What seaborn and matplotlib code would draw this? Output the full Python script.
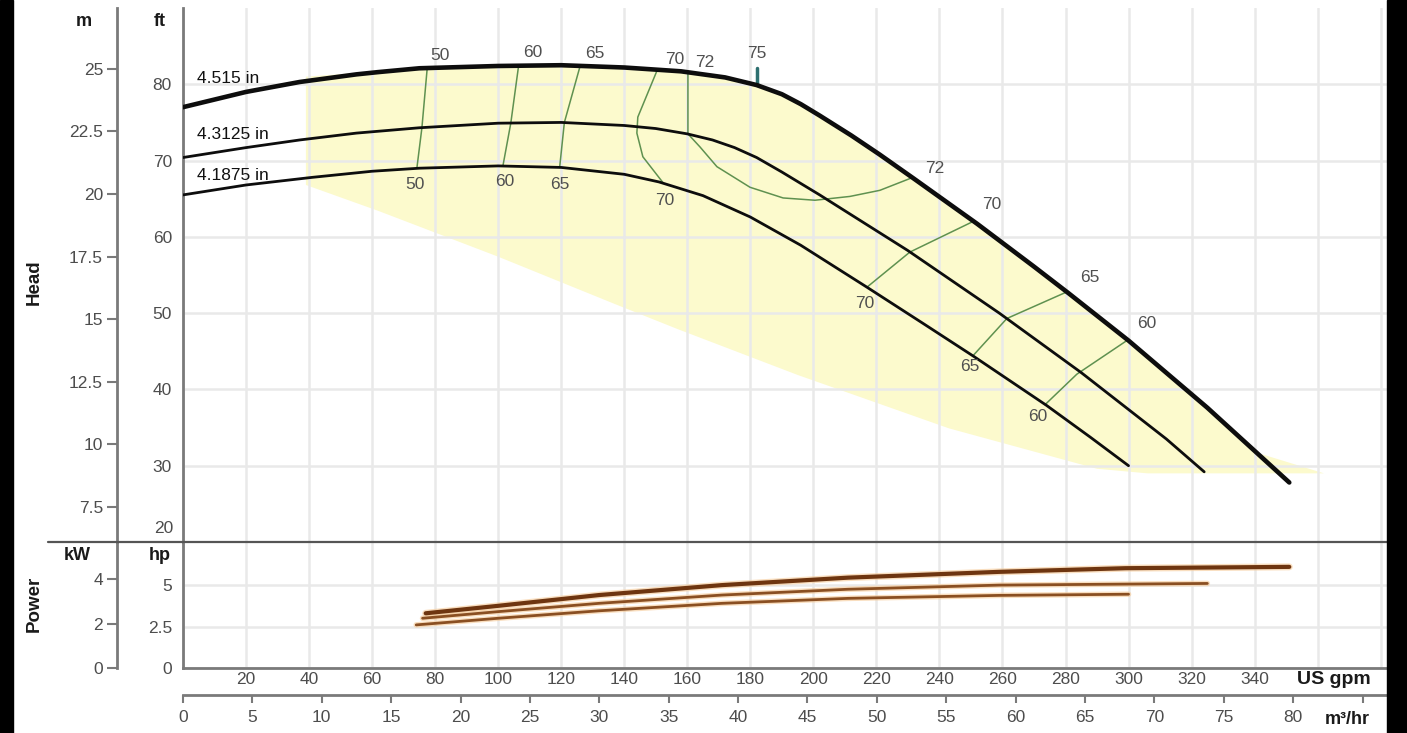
import matplotlib
matplotlib.use('Agg')
import matplotlib.pyplot as plt
import seaborn as sns
from matplotlib.lines import Line2D
from matplotlib.patches import Rectangle

# ---- head curves (US gpm, ft) ----
flow_4515 = [0, 20, 37, 55, 62, 75, 100, 120, 140, 158, 172, 182, 190, 196, 202, 212, 221, 232, 252, 270, 281, 300, 325, 351]
head_4515 = [77.0, 79.0, 80.3, 81.3, 81.6, 82.1, 82.4, 82.5, 82.2, 81.7, 80.9, 79.9, 78.7, 77.4, 75.9, 73.3, 70.8, 67.6, 61.7, 56.1, 52.6, 46.4, 37.6, 27.8]

flow_43125 = [0, 20, 37, 55, 75, 100, 120, 140, 150, 160, 168, 175, 182, 190, 202, 230, 259, 285, 312, 324]
head_43125 = [70.4, 71.7, 72.7, 73.6, 74.3, 74.9, 75.0, 74.6, 74.2, 73.5, 72.7, 71.7, 70.4, 68.5, 65.5, 58.2, 50.0, 42.2, 33.5, 29.2]

flow_41875 = [0, 20, 41, 60, 75, 100, 120, 140, 151, 165, 180, 196, 217, 235, 251, 274, 288, 300]
head_41875 = [65.5, 66.8, 67.8, 68.6, 69.0, 69.3, 69.1, 68.2, 67.2, 65.4, 62.6, 58.9, 53.4, 48.6, 44.3, 37.9, 33.7, 30.0]

diameters = ['4.515 in', '4.3125 in', '4.1875 in']
diameter_label_ft = [80.8, 73.4, 68.1]

# ---- efficiency contours (%) ----
eff50_flow = [77.5, 75.8, 74.2]
eff50_ft = [82.2, 74.3, 69.0]
eff60_flow = [106.5, 104.0, 101.5]
eff60_ft = [82.5, 74.9, 69.3]
eff65_flow = [126.0, 121.0, 119.5]
eff65_ft = [82.4, 75.0, 69.1]
eff70_flow = [150.5, 147.2, 144.3, 144.0, 145.9, 152.3]
eff70_ft = [81.9, 78.6, 75.7, 73.6, 70.5, 67.1]
eff72_flow = [160.2, 160.2, 164.0, 169.4, 179.9, 190.4, 200.5, 211.6, 221.1, 231.6]
eff72_ft = [81.4, 73.5, 71.8, 69.2, 66.5, 65.1, 64.8, 65.3, 66.1, 67.8]
eff70r_flow = [217.0, 230.6, 250.6]
eff70r_ft = [53.4, 58.0, 62.0]
eff65r_flow = [250.6, 261.4, 280.5]
eff65r_ft = [44.4, 49.3, 52.8]
eff60r_flow = [273.5, 283.6, 299.8]
eff60r_ft = [38.0, 42.0, 46.5]
eff75_flow = [182.1, 182.1]
eff75_ft = [82.1, 79.9]

eff_text = ['50', '60', '65', '70', '72', '75', '50', '60', '65', '70',
            '72', '70', '65', '60', '70', '65', '60']
eff_text_flow = [81.5, 111.0, 130.7, 156.1, 165.6, 182.1, 73.6, 102.2, 119.6, 152.9,
                 238.6, 256.7, 287.8, 305.8, 216.4, 249.7, 271.3]
eff_text_ft = [83.8, 84.2, 84.1, 83.2, 82.9, 84.0, 66.8, 67.2, 66.8, 64.8,
               69.0, 64.2, 54.7, 48.7, 51.3, 43.0, 36.4]

# ---- preferred operating region (yellow) ----
region_flow = [39, 39, 62, 100, 137, 157, 195, 243, 290, 306, 362, 340, 325, 300, 270, 252, 232, 212, 196, 182, 158, 120, 75, 39]
region_ft = [81.0, 66.8, 63.4, 57.4, 51.2, 47.9, 41.9, 34.9, 29.6, 29.0, 29.0, 31.8, 37.6, 46.4, 56.1, 61.7, 67.6, 73.3, 77.4, 79.9, 81.7, 82.5, 82.1, 81.0]

# ---- power curves (US gpm, hp) ----
pw_flow_4515 = [77, 100, 132, 171, 211, 259, 299, 351]
pw_hp_4515 = [3.3, 3.75, 4.4, 5.0, 5.45, 5.8, 6.02, 6.1]
pw_flow_43125 = [76, 100, 132, 171, 211, 259, 325]
pw_hp_43125 = [3.0, 3.4, 3.9, 4.4, 4.75, 5.0, 5.1]
pw_flow_41875 = [74, 100, 132, 171, 211, 259, 300]
pw_hp_41875 = [2.6, 3.0, 3.45, 3.9, 4.2, 4.38, 4.45]

# ---- axes ticks ----
gpm_ticks = list(range(0, 381, 20))
gpm_labels = [''] + [str(v) for v in range(20, 341, 20)] + ['', '']
ft_ticks = [30, 40, 50, 60, 70, 80]
m_ticks = [7.5, 10, 12.5, 15, 17.5, 20, 22.5, 25]
m_labels = ['7.5', '10', '12.5', '15', '17.5', '20', '22.5', '25']
hp_ticks = [0, 2.5, 5]
hp_labels = ['0', '2.5', '5']
kw_ticks = [0, 2, 4]
m3h_ticks = list(range(0, 86, 5))
m3h_labels = [str(v) for v in range(0, 81, 5)] + ['']

sns.set_style('white')
plt.rcParams['font.family'] = ['Liberation Sans', 'DejaVu Sans']

W, H = 1407, 733
fig = plt.figure(figsize=(W / 100, H / 100), dpi=100)


def box(l, t, r, b):
    return [l / W, 1 - b / H, (r - l) / W, (b - t) / H]


def ftext(x, y, s, **kw):
    fig.text(x / W, 1 - y / H, s, **kw)


ax = fig.add_axes(box(183, 8, 1387, 542))
axp = fig.add_axes(box(183, 542, 1387, 668))

grid_kw = dict(color='#e9e9e9', linewidth=1.8)
tick_col = '#4d4d4d'
spine_col = '#7a7a7a'
FS = 12.5

# head panel
ax.fill(region_flow, region_ft, color='#fcfacd', lw=0, zorder=0.2)
ax.set_xlim(0, 382)
ax.set_ylim(20, 90)
ax.set_xticks(gpm_ticks)
ax.set_xticklabels([])
ax.set_yticks(ft_ticks)
ax.grid(True, **grid_kw)
ax.set_axisbelow(True)

eff_lines = [(eff50_flow, eff50_ft), (eff60_flow, eff60_ft), (eff65_flow, eff65_ft),
             (eff70_flow, eff70_ft), (eff72_flow, eff72_ft), (eff70r_flow, eff70r_ft),
             (eff65r_flow, eff65r_ft), (eff60r_flow, eff60r_ft)]
for fx, fy in eff_lines:
    sns.lineplot(x=fx, y=fy, ax=ax, color='#5f9150', linewidth=1.1, sort=False,
                 estimator=None, zorder=3)
sns.lineplot(x=eff75_flow, y=eff75_ft, ax=ax, color='#2d6f6f', linewidth=2.5,
             sort=False, estimator=None, zorder=3)

curves = [(flow_4515, head_4515, 3.3), (flow_43125, head_43125, 2.0), (flow_41875, head_41875, 2.0)]
for fx, fy, lw in curves:
    sns.lineplot(x=fx, y=fy, ax=ax, color='#0d0d0d', linewidth=lw, sort=False,
                 estimator=None, zorder=4)

for name, yv in zip(diameters, diameter_label_ft):
    ax.text(4.4, yv, name, fontsize=12.5, color='#111', va='center', ha='left', zorder=5)

for s, fx, fy in zip(eff_text, eff_text_flow, eff_text_ft):
    ax.text(fx, fy, s, fontsize=FS, color='#505050', ha='center', va='center', zorder=5)

for side in ['top', 'right', 'bottom']:
    ax.spines[side].set_visible(False)
ax.spines['left'].set_color(spine_col)
ax.spines['left'].set_linewidth(2)
ax.tick_params(axis='y', left=False, length=0, pad=8, labelsize=FS, labelcolor=tick_col)
ax.tick_params(axis='x', bottom=False, length=0)
ax.text(-10 / 1204, 21.8, '20', transform=ax.get_yaxis_transform(), ha='right',
        va='center', fontsize=FS, color=tick_col)

sec_m = ax.secondary_yaxis(-66 / 1204, functions=(lambda f: f * 0.3048, lambda m: m / 0.3048))
sec_m.set_yticks(m_ticks, m_labels)
sec_m.tick_params(axis='y', left=True, length=7, width=1.5, color=spine_col, pad=3,
                  labelsize=FS, labelcolor=tick_col)
sec_m.spines['left'].set_color(spine_col)
sec_m.spines['left'].set_linewidth(2)

# power panel
axp.set_xlim(0, 382)
axp.set_ylim(0, 7.6)
axp.set_xticks(gpm_ticks, gpm_labels)
axp.set_yticks(hp_ticks, hp_labels)
axp.grid(True, **grid_kw)
axp.set_axisbelow(True)

power = [(pw_flow_4515, pw_hp_4515, 3.0, '#6e3510'), (pw_flow_43125, pw_hp_43125, 2.0, '#8a4f22'),
         (pw_flow_41875, pw_hp_41875, 2.0, '#8a4f22')]
for fx, fy, lw, col in power:
    sns.lineplot(x=fx, y=fy, ax=axp, color='#f6c995', linewidth=lw + 2.0, sort=False,
                 estimator=None, alpha=0.6, zorder=3)
    sns.lineplot(x=fx, y=fy, ax=axp, color=col, linewidth=lw, sort=False,
                 estimator=None, zorder=4)

for side in ['top', 'right']:
    axp.spines[side].set_visible(False)
for side in ['left', 'bottom']:
    axp.spines[side].set_color(spine_col)
    axp.spines[side].set_linewidth(2)
axp.tick_params(axis='y', left=False, length=0, pad=8, labelsize=FS, labelcolor=tick_col)
axp.tick_params(axis='x', bottom=False, length=0, pad=3, labelsize=FS, labelcolor=tick_col)

sec_kw = axp.secondary_yaxis(-66 / 1204, functions=(lambda h: h * 0.7457, lambda k: k / 0.7457))
sec_kw.set_yticks(kw_ticks, [str(v) for v in kw_ticks])
sec_kw.tick_params(axis='y', left=True, length=7, width=1.5, color=spine_col, pad=3,
                   labelsize=FS, labelcolor=tick_col)
sec_kw.spines['left'].set_color(spine_col)
sec_kw.spines['left'].set_linewidth(2)

sec_q = axp.secondary_xaxis(-27 / 126, functions=(lambda g: g * 0.2271247, lambda q: q / 0.2271247))
sec_q.set_xticks(m3h_ticks, m3h_labels)
sec_q.tick_params(axis='x', bottom=True, length=6, width=1.5, color=spine_col, pad=5,
                  labelsize=FS, labelcolor=tick_col)
sec_q.spines['bottom'].set_color(spine_col)
sec_q.spines['bottom'].set_linewidth(2)

# divider between panels
fig.add_artist(Line2D([48 / W, 1387 / W], [1 - 542 / H] * 2, color='#555', lw=1.6))

# unit and axis titles
bold = dict(fontweight='bold', color='#1a1a1a', ha='center', va='center')
ftext(84, 22, 'm', fontsize=13, **bold)
ftext(160, 22, 'ft', fontsize=13, **bold)
ftext(77, 556, 'kW', fontsize=13, **bold)
ftext(160, 556, 'hp', fontsize=13, **bold)
ftext(34, 282, 'Head', fontsize=13.5, rotation=90, **bold)
ftext(34, 604, 'Power', fontsize=13.5, rotation=90, **bold)
ftext(1334, 679, 'US gpm', fontsize=14, **bold)
ftext(1347, 719, 'm³/hr', fontsize=13, **bold)

# black frame strips
fig.add_artist(Rectangle((0, 0), 13 / W, 1, transform=fig.transFigure, color='black', zorder=10))
fig.add_artist(Rectangle((1387 / W, 0), 20 / W, 1, transform=fig.transFigure, color='black', zorder=10))

fig.savefig('out.png', dpi=100)
